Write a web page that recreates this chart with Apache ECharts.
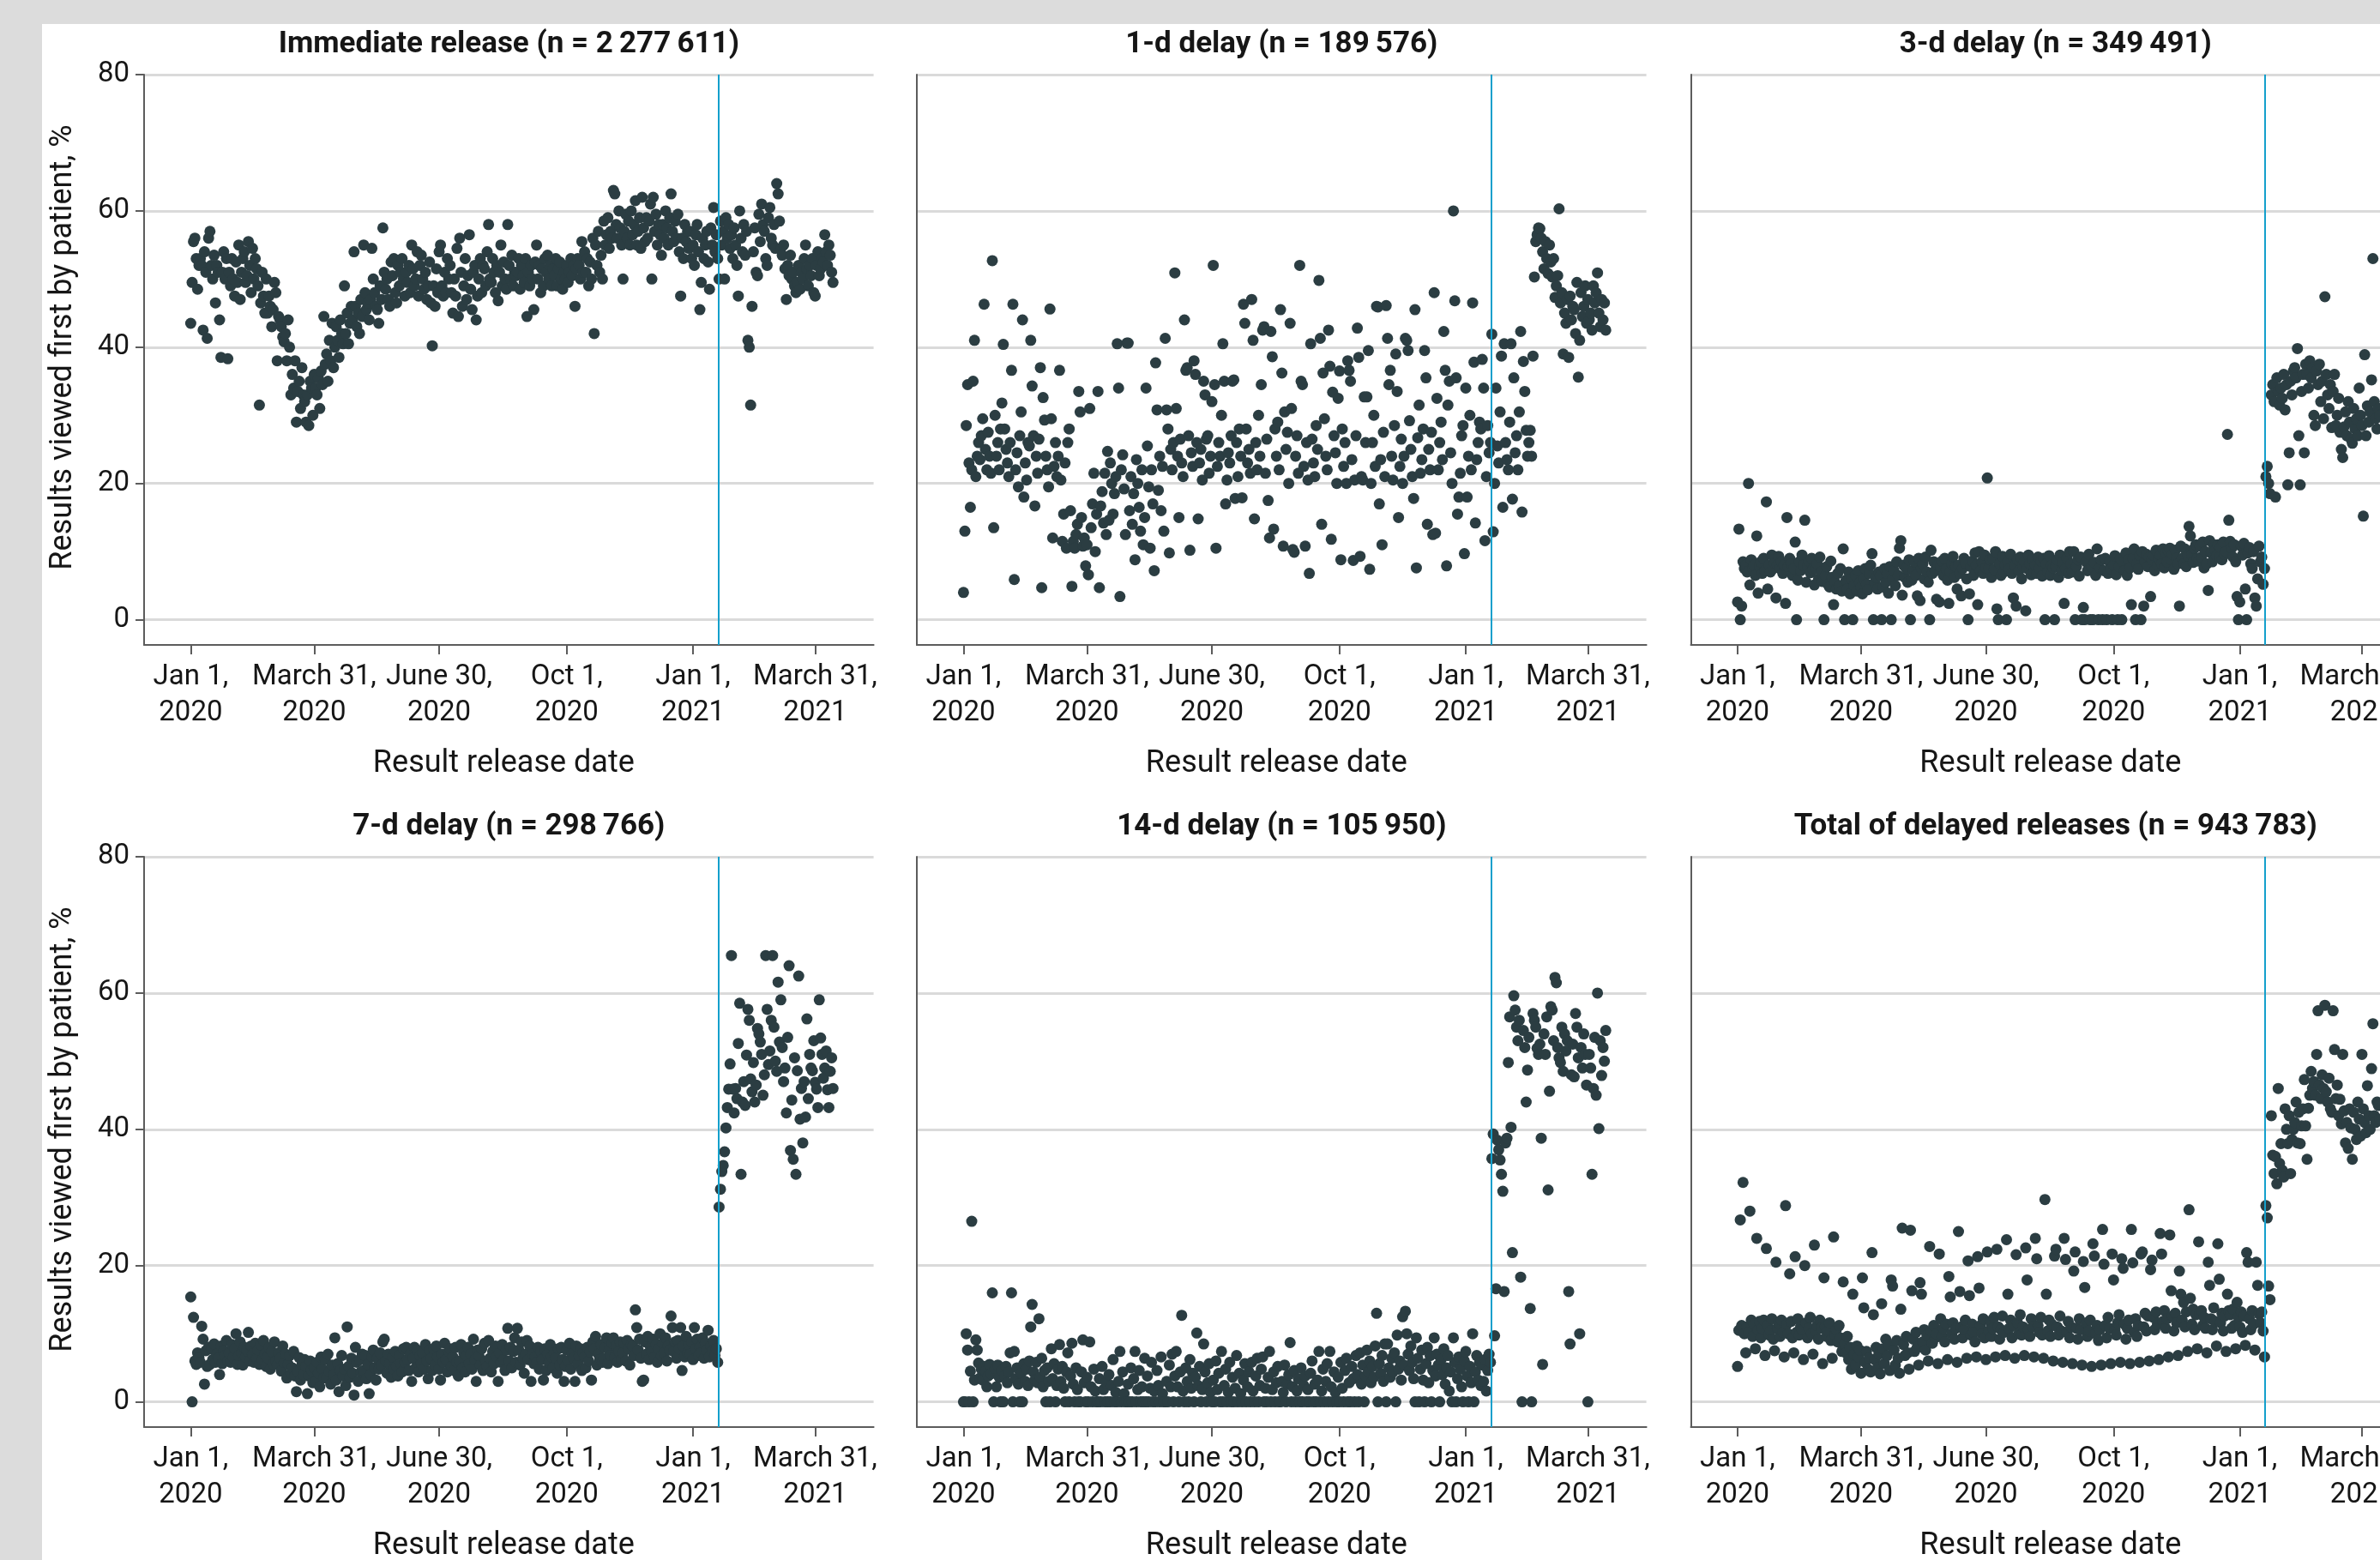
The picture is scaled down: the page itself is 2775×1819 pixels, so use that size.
<!DOCTYPE html>
<html>
<head>
<meta charset="utf-8">
<title>Results viewed first by patient</title>
<script src="https://cdn.jsdelivr.net/npm/echarts@6/dist/echarts.min.js"></script>
<style>
  html, body { margin: 0; padding: 0; background: #dcdcdc; overflow: hidden; }
  #paper { position: absolute; left: 49px; top: 28px; right: 0; bottom: 0; background: #fff; }
  #main { position: absolute; left: 0; top: 0; width: 2775px; height: 1819px; }
</style>
</head>
<body>
<div id="paper"></div>
<div id="main"></div>
<script>
// daily % of results viewed first by the patient, starting Jan 1, 2020
// one row per week
const immediate = [
  43.5, 49.5, 55.5, 56, 53, 48.5, 52,
  53, 52, 42.5, 54, 51, 41.3, 56,
  57, 52, 50, 53.5, 46.5, 52, 51,
  44, 38.5, 51, 54, 50, 53, 38.3,
  51, 49, 53, 50, 47.5, 52.5, 49.5,
  55, 47, 51, 53, 54, 49.5, 50.5,
  55.5, 52, 48, 54.5, 50, 53, 51.5,
  49, 31.5, 46.5, 51, 47.5, 45, 50,
  45, 47.5, 46, 43, 45.5, 49.5, 48,
  38, 44.5, 44, 43, 41.5, 40.8, 42,
  38, 44, 40, 33, 36, 34, 38,
  29, 33.5, 35, 31, 37, 33, 32,
  29, 33, 28.5, 35, 34, 30, 36,
  34, 33, 35.5, 31, 36.5, 34.5, 44.5,
  37.5, 39, 35, 41, 38, 43.5, 37,
  40, 43, 41, 38.5, 44, 42, 40.5,
  49, 42, 45, 40.5, 43.5, 46, 44,
  54, 46, 43, 45, 42, 47, 44.5,
  55, 48, 45.5, 46.5, 44, 47, 54.5,
  50, 48, 46, 45.5, 43.5, 49, 47,
  57.5, 51, 48.5, 50, 47, 46, 52.5,
  50.5, 53, 48, 46.5, 52, 49, 51,
  53, 50, 47.5, 51, 49.5, 52, 48,
  55, 51.5, 49, 50, 54, 47.5, 52,
  53.5, 50, 48.5, 51, 47, 49, 52.5,
  46.5, 40.2, 49, 46, 51.5, 48, 54,
  55, 49, 47.5, 51, 48, 53, 50,
  52, 48, 45, 50, 47.5, 54.5, 44.5,
  56, 51, 46, 49, 53, 47, 50.5,
  56.5, 48.5, 45.5, 51, 52, 44, 47.5,
  50, 53, 48, 52, 51.5, 49, 54,
  58, 50, 49.5, 53, 51, 48, 52,
  46.8, 51, 55, 49, 52.5, 50, 48.5,
  58, 52, 50, 53.5, 49, 51, 50.5,
  51, 53, 48.5, 52, 50.5, 49.5, 53,
  44.5, 51, 49, 52, 50, 45.5, 52.5,
  55, 50, 52, 48, 51.5, 49, 53,
  51, 53.5, 50, 52, 49, 51.5, 50.5,
  53, 49, 51.5, 52.5, 50, 48.5, 51,
  50, 52, 49.5, 51, 53, 50.5, 52,
  46, 51.5, 53, 52, 50, 55.5, 51,
  54, 51, 53, 49, 52.5, 50, 56,
  42, 55, 52, 57, 51, 53.5, 50,
  58.5, 55, 56.5, 59, 54.5, 57, 56,
  63, 62.5, 58, 56, 60, 57.5, 55,
  50, 57, 59.5, 56, 58.5, 55, 60,
  56.5, 58, 61.5, 55, 57, 59, 54.5,
  62, 57.5, 55.5, 59, 56, 58.5, 61,
  50, 62, 57, 59.5, 55, 58, 56.5,
  53.5, 58, 56, 60, 57.5, 55, 59,
  62.5, 57, 55.5, 58.5, 56, 59.5, 54,
  47.5, 56, 53, 58, 55.5, 57, 54.5,
  57, 53, 55, 52, 56.5, 58, 54,
  45.5, 49.5, 56, 53, 55, 57, 52.5,
  48.5, 57.5, 55, 60.5, 54, 56.5, 53,
  50, 58.5, 55, 57, 50, 59, 56,
  58, 54.5, 56.5, 53, 57.5, 55, 52,
  47.5, 60, 56, 54, 58, 53.5, 57,
  41, 40, 31.5, 46, 54, 57.5, 51,
  50.5, 59.5, 55.5, 61, 58, 57, 53,
  52, 59, 60.5, 56, 55, 58, 54.5,
  64, 62.5, 58.5, 54.5, 53.5, 55, 51.5,
  47, 52, 50.5, 53.5, 50, 51, 49,
  48, 49.5, 52, 48.5, 51, 50, 53,
  55, 51.5, 49, 52, 50.5, 53, 48,
  47.5, 52, 54, 50.5, 51.5, 53, 52.5,
  56.5, 54, 52, 55, 53.5, 51, 49.5
];

const delay1 = [
  4, 13, 28.5, 34.5, 23, 16.5, 22,
  35, 41, 21, 24, 26, 23.5, 27,
  29.5, 46.3, 25, 22, 27.5, 24, 21.5,
  52.7, 13.5, 30, 24, 26, 22, 28,
  31.8, 40.4, 28, 25, 23, 21, 26,
  36.6, 46.3, 5.9, 22, 24.5, 19.5, 27,
  30.5, 44, 18, 23, 20.5, 26, 25.5,
  41, 34.3, 27, 16.7, 24, 21.5, 26.5,
  37, 4.7, 32.6, 29.3, 24, 22, 19.5,
  45.6, 29.5, 12, 22.5, 26, 21, 24,
  36.6, 20.5, 11.5, 15.5, 23, 10.5, 26,
  28, 16, 4.9, 11.5, 10.5, 12.5, 14,
  33.5, 30.5, 15, 10.8, 12, 7.9, 11,
  6.6, 31, 13.5, 17, 21.5, 10, 15.5,
  33.5, 4.7, 16.7, 18.8, 14.2, 21.5, 12.5,
  24.7, 14.6, 23, 20, 15.5, 18.5, 21,
  40.5, 34, 3.4, 22, 24.2, 19.2, 12.5,
  40.6, 40.6, 16, 21, 14, 18.5, 8.8,
  23.5, 20, 16.5, 13, 22, 11, 15,
  34, 25.5, 19.5, 10.5, 22, 17, 7.2,
  37.7, 30.8, 19, 24, 16, 22.5, 13,
  41.3, 30.8, 28, 9.8, 25, 22, 26,
  50.9, 31, 24, 15, 26.5, 23, 21,
  44, 36.6, 37, 27, 10.2, 24.5, 22.5,
  38, 36, 26, 14.8, 23, 25, 20.5,
  35, 33, 26.5, 27, 21.5, 24, 32,
  52, 34.5, 10.5, 22.5, 26, 24, 30,
  40.5, 35, 17, 20.5, 24.5, 23, 27,
  35, 35.2, 17.8, 26, 21, 28, 24,
  17.9, 46.3, 43.5, 28, 23, 25, 21.5,
  47, 41, 14.8, 26, 22, 30, 24,
  34.5, 42.5, 43, 21.5, 26.5, 17.5, 12,
  42.3, 38.6, 13.3, 28, 24, 29, 22,
  45.5, 36.2, 10.8, 30.5, 25, 27.5, 20,
  43.5, 31, 10.3, 9.9, 24, 27, 21.5,
  52, 35, 34.5, 22.5, 10.8, 26, 20.5,
  6.8, 40.5, 26.5, 23, 21, 28.5, 25,
  49.8, 41.3, 14, 36.2, 29.5, 24, 22,
  42.5, 37.2, 11.8, 33.4, 27, 24.5, 20,
  32.5, 36.5, 8.8, 28, 22.5, 26, 20,
  38, 36.6, 35, 23.5, 8.7, 20.5, 27,
  42.8, 38.5, 9.3, 21, 20.5, 32.7, 26,
  32.7, 39.5, 7.4, 20, 26, 30, 22.5,
  46, 45.9, 17, 23.5, 11, 27.5, 21,
  46.1, 41.3, 34.5, 36.6, 24, 20.5, 28.5,
  39, 33.5, 15, 22.5, 26.5, 20, 24,
  41.3, 41, 39.5, 29.2, 25, 21, 17.8,
  45.5, 7.6, 26.7, 31.5, 21.5, 23.5, 28,
  39.5, 35.5, 14, 25, 22, 27.5, 12.5,
  48, 12.7, 32.5, 22, 26, 29, 23.5,
  42.3, 36.6, 7.9, 31.5, 35, 24.5, 20,
  60, 46.8, 35.5, 15.5, 18, 21.5, 27,
  28.5, 9.7, 34, 18, 24, 30, 22,
  46.5, 37.8, 14.2, 23.5, 26, 29, 28,
  38.2, 34, 11.6, 21, 28.5, 24.5, 26,
  41.9, 12.9, 20, 34, 25.5, 23, 30.5,
  38.7, 16.5, 40.5, 26, 23.5, 22, 29,
  40.5, 17.7, 35.5, 24.5, 27, 22, 30.5,
  42.3, 15.8, 37.9, 33.5, 27.8, 24, 26,
  27.8, 24, 38.7, 50.3, 55.5, 56.5, 57.5,
  57.4, 56, 54, 51.5, 55.5, 53, 50.8,
  55, 52.5, 50.3, 53, 47.3, 49, 50.5,
  60.3, 46.5, 48, 39, 45, 43.5, 47,
  38.5, 47.5, 44, 46, 45.5, 42, 49.5,
  35.6, 41, 48, 44.5, 46, 49, 43.5,
  47, 44, 45, 42.5, 49, 46.5, 48,
  50.9, 45, 43, 47, 44, 46.5, 42.5
];

const delay3 = [
  2.6, 13.3, 0, 2, 8.5, 7.5, 8,
  7, 20, 5.1, 8.8, 7.5, 8, 6.5,
  12.3, 3.9, 7.8, 8.5, 6.8, 9, 7.2,
  17.3, 4.5, 8, 7, 9.5, 7.5, 8.3,
  3.2, 8, 9.3, 7.5, 8.5, 6.8, 8,
  2.4, 15, 7.8, 9, 8.2, 6.5, 7.5,
  11.4, 0, 5.8, 8.5, 7.2, 9.5, 8,
  14.6, 5.5, 7.8, 8.6, 6.9, 9, 7.4,
  5.1, 7.5, 8.2, 6, 9.2, 7, 5.6,
  0, 6.5, 7.8, 5.2, 4.8, 8.6, 6.2,
  2.2, 5.5, 4.5, 6.8, 5, 7.5, 4.2,
  10.4, 0, 5.8, 4.5, 7, 3.8, 6,
  0, 5, 6.5, 4.2, 7.2, 5.5, 4.8,
  3.8, 6, 7.5, 5.2, 4.4, 6.8, 8,
  9.7, 0, 5.5, 6.2, 4.5, 7, 6.5,
  0, 4.8, 7.5, 5.5, 6.8, 3.9, 7.8,
  0, 6, 7.2, 5, 8.5, 6.5, 10.5,
  11.6, 3.6, 8, 6.2, 7.5, 5.5, 8.8,
  0, 5.8, 7.2, 8.5, 6.5, 3.5, 9,
  2.8, 7.5, 8.2, 6, 9.2, 7, 5.5,
  0, 10.2, 6.8, 8.5, 7.2, 3, 8,
  2.6, 7.8, 8.6, 6.5, 9, 7.4, 5.8,
  2.4, 7, 8.2, 9.3, 6.2, 7.8, 4.5,
  8, 6.8, 3.5, 7.5, 9, 8.3, 6,
  0, 3.8, 7.8, 8.6, 6.5, 9.8, 8,
  2.2, 10, 7.2, 8.5, 6.8, 9.5, 7.6,
  20.8, 7.5, 8.8, 6.2, 9, 7.4, 10,
  1.6, 0, 8.2, 6.5, 9.3, 7, 8,
  0, 8.5, 7.4, 9.6, 6.8, 3.2, 8,
  2, 8.8, 7.2, 9.2, 6, 7.8, 8.5,
  1.3, 7.5, 9.5, 8.2, 6.6, 8.9, 7,
  8, 6.8, 9.2, 7.5, 8.6, 6.4, 9,
  0, 8.2, 7, 9.4, 6.5, 8, 7.6,
  0, 7.8, 8.8, 6.2, 9.5, 7.2, 8.4,
  2.4, 7.5, 9, 6.8, 10, 8.2, 7,
  10, 0, 7.8, 8.8, 6.4, 9.2, 0,
  1.8, 0, 8.5, 7.2, 9.6, 0, 7.8,
  0, 8.4, 6.5, 10.4, 0, 7.6, 8.8,
  0, 7.2, 9, 0, 6.8, 8.5, 7.5,
  0, 8, 9.4, 6.6, 0, 7.8, 9,
  0, 8.5, 7.2, 9.8, 6.5, 8.8, 7.6,
  2.2, 9, 10.4, 0, 8.2, 7.4, 9.5,
  0, 10, 2, 8.5, 9.6, 7.8, 9.2,
  3.4, 8.8, 9.5, 7.2, 10.2, 8, 9,
  9.5, 8.2, 10.4, 7.6, 9.8, 8.5, 10,
  10.5, 8.8, 9.6, 7.4, 10.2, 9, 8.2,
  2, 10.8, 9, 8.2, 10.4, 7.8, 9.4,
  13.7, 12.3, 9.5, 8.4, 10.5, 11, 9,
  8.6, 10.8, 9.2, 11.4, 7.6, 10, 8.2,
  4.3, 11.6, 9.8, 8.5, 11, 10.2, 9.4,
  11, 9.2, 10.6, 8.8, 11.4, 9.6, 10,
  27.2, 14.6, 11.5, 10.5, 9.2, 11, 8.5,
  3.4, 0, 2.6, 10.8, 9.5, 11.2, 4.5,
  0, 9.8, 10.6, 8.2, 7.5, 10, 3.2,
  2, 6, 10.8, 8.5, 9.2, 5.2, 7.5,
  21, 22.5, 20, 18.5, 33, 34.5, 32,
  18, 35.5, 33.5, 31.5, 34, 32.5, 36,
  30.8, 34.5, 19.8, 24.5, 35, 33, 36.5,
  37, 35.5, 39.8, 27, 19.8, 33.5, 36,
  24.5, 37.5, 36, 34, 38, 35.5, 37,
  30, 28.5, 36.5, 34.5, 37.5, 32, 35,
  29.5, 47.4, 36, 33, 31, 34.5, 28.2,
  33.5, 36, 28.5, 30, 32.5, 27.5, 25,
  23.8, 28.3, 30.5, 27, 32, 29, 26.5,
  25.9, 31, 28, 29.5, 27, 34, 30,
  28.5, 15.2, 38.9, 27, 31.4, 29, 30.5,
  35.2, 53, 32, 29.5, 28, 31, 30
];

const delay7 = [
  15.4, 0, 12.4, 6, 5.5, 7.2, 6.5,
  5.8, 11.1, 9.2, 2.6, 7.5, 5.2, 8,
  5.5, 7.8, 6.2, 8.5, 5.8, 7, 6.4,
  4, 8.2, 5.6, 7.5, 6.8, 9, 6,
  7.2, 5.8, 8.4, 6.5, 7.8, 10, 5.5,
  6.8, 8.8, 7.2, 5.4, 8, 6.6, 7.5,
  10.2, 6, 8.2, 7, 5.8, 8.6, 6.4,
  7.6, 5.5, 8.4, 6.2, 9, 7, 5.2,
  6.5, 8, 4.8, 7.4, 5.6, 8.8, 6,
  5.5, 7.2, 6.4, 4.5, 8.2, 5.8, 7,
  3.5, 5.5, 6.8, 4.2, 5, 7.4, 3.8,
  1.5, 4.5, 6.5, 3.2, 5.5, 4, 6.2,
  5.2, 1.2, 3.8, 6, 4.6, 2.8, 5,
  3, 5.8, 4.2, 2.2, 6.6, 4.8, 3.5,
  6.2, 3.6, 7, 4.4, 2.6, 5.4, 4,
  9.4, 3.2, 5.6, 1.5, 4.6, 6.8, 3.8,
  4.8, 2.4, 11, 5.2, 3.6, 6.4, 4.2,
  1, 8, 5.8, 3, 6.2, 4.4, 7,
  4.6, 6.8, 3.4, 5.5, 1.2, 4, 6.6,
  7.6, 5, 3.2, 6.4, 4.8, 7.2, 5.4,
  8.8, 9.2, 6, 4.2, 7, 5.6, 3.6,
  6.6, 4.8, 7.4, 5.2, 3.8, 6.8, 5.6,
  4.4, 7.8, 5.8, 8, 6.2, 4.6, 7,
  3, 6.4, 8, 5, 7.6, 4.4, 6.8,
  5.6, 7.2, 4.8, 8.4, 6, 3.4, 7.6,
  6.4, 4.6, 7.8, 5.4, 8.2, 6.6, 4.8,
  3.2, 7, 5.8, 8.6, 6.2, 4.4, 7.4,
  7.8, 5.2, 6.6, 4.6, 8, 5.8, 3.8,
  6, 8.4, 5, 7.2, 4.4, 6.8, 8,
  5.6, 7, 4.8, 9.2, 6.2, 3, 7.6,
  6.8, 5.4, 7.8, 4.6, 8.6, 6, 5.2,
  9, 6.4, 4.4, 7.4, 5.6, 8.2, 6.6,
  3, 7.2, 5.8, 8.4, 6.2, 4.6, 7.6,
  10.8, 6, 8, 5, 7.4, 9.4, 5.8,
  10.8, 7.6, 5.4, 8.8, 6.4, 4.2, 7,
  9, 6.2, 8.2, 3, 7, 5.6, 6.6,
  5.8, 8, 4.8, 7.4, 6.2, 3.2, 7.8,
  4.6, 7, 5.8, 8.4, 6.6, 5, 7.2,
  6.4, 4.2, 7.8, 5.4, 8, 6.2, 3,
  5.2, 7.6, 6, 8.6, 4.8, 7, 6.4,
  3, 8.2, 5.6, 6.8, 7.8, 4.6, 7.2,
  6.6, 5, 8, 6, 7.4, 3.2, 8.8,
  7.8, 9.6, 5.4, 7, 6.2, 8.4, 5.8,
  6.4, 8, 9.4, 5.6, 7.6, 6.8, 8.6,
  9.4, 6.6, 8.2, 5.8, 7.4, 8.8, 6.2,
  7.2, 8.6, 6, 9, 7.8, 5.4, 8.4,
  8.2, 6.8, 13.5, 10.9, 7.6, 9.2, 6.4,
  3, 3.2, 8.8, 7, 9.6, 6.2, 8,
  7.4, 9.2, 6.6, 8.4, 5.8, 7.8, 10,
  6.8, 8.6, 7.2, 9.4, 6, 8.2, 7.6,
  12.6, 10.9, 7.4, 8.8, 6.4, 9, 7.8,
  10.9, 4.6, 8.2, 6.6, 9.6, 7.2, 8.4,
  7, 8.8, 6.2, 10.9, 7.8, 9.2, 6.8,
  8, 7.2, 9.4, 6.4, 8.6, 7.6, 10.5,
  6.6, 8.2, 7.4, 9, 6.8, 7.8, 5.8,
  28.6, 31.2, 33.8, 34.7, 36.7, 40.2, 43.2,
  45.9, 49.6, 65.5, 45.9, 42.4, 46, 44.5,
  52.6, 58.5, 33.4, 44, 47, 43.5, 50.9,
  57.6, 56, 47.4, 45.5, 49.8, 44, 46.5,
  54.8, 54, 52.8, 51, 45, 48, 65.5,
  57.6, 49.5, 51.5, 56, 65.5, 55, 50,
  48.5, 61.6, 52.8, 59, 52, 47, 49,
  42.4, 53.5, 64, 36.9, 44.3, 35.6, 50.5,
  33.4, 48.6, 62.5, 41.5, 46, 38, 47,
  41.8, 56.2, 44.5, 51, 49, 48.6, 53,
  46.9, 45.9, 43.2, 59, 53.4, 51, 47.5,
  49, 51.5, 45.8, 43.2, 48.5, 50.5, 46
];

const delay14 = [
  0, 0, 10, 7.6, 0, 4.5, 26.5,
  0, 3.2, 9.1, 7.6, 5.7, 3.5, 4.8,
  3.2, 5.2, 4.5, 2.2, 3.8, 5.5, 4.1,
  16, 0, 4.9, 2.2, 5.4, 3.6, 0,
  4.6, 0, 3.8, 5.2, 2.8, 4.4, 7.2,
  16, 0, 7.4, 3.4, 5, 2.6, 0,
  4.2, 0, 5.6, 3, 4.8, 2.4, 6,
  11, 14.3, 4.4, 3.2, 5.8, 2.8, 12.2,
  3.6, 6.4, 2.2, 4.6, 0, 5, 3,
  0, 7.8, 3.4, 5.6, 0, 2.4, 4.8,
  8.4, 3, 5.2, 2, 0, 4.4, 7.2,
  0, 3.8, 8.6, 2.6, 0, 5, 1.8,
  0, 0, 4.4, 9.1, 2.8, 0, 3.6,
  0, 8.8, 2.2, 0, 4.8, 1.6, 0,
  0, 3.4, 0, 5.2, 1.8, 0, 2.8,
  0, 4, 0, 2.4, 6.2, 0, 1.4,
  0, 3, 7.4, 0, 4.4, 1.2, 0,
  0, 2.6, 0, 5, 0, 3.4, 7.4,
  0, 1.8, 4.6, 0, 2.2, 0, 6.4,
  0, 3.8, 0, 2, 5.8, 0, 1.6,
  0, 4.6, 2.4, 0, 6.6, 1.2, 0,
  0, 3, 0, 5.4, 2.2, 7, 0,
  3.8, 7.4, 2.2, 0, 4.4, 12.7, 1.6,
  0, 5, 3, 0, 6.2, 2, 4.2,
  0, 3.6, 10.1, 2.4, 5.2, 0, 1.8,
  8.5, 4.4, 0, 2.8, 5.6, 1.4, 0,
  3.2, 0, 6, 1.8, 4.2, 0, 7.4,
  0, 2.4, 4.8, 0, 1.4, 5.8, 0,
  3.6, 0, 2, 6.8, 0, 4.2, 1.2,
  0, 3.2, 5.6, 0, 2.2, 4.4, 0,
  5.8, 1.6, 0, 3.8, 6.4, 0, 2.4,
  4.8, 6.6, 0, 2, 0, 3.6, 7.4,
  0, 1.8, 4.4, 0, 2.8, 5.2, 0,
  0, 3, 1.4, 5.4, 0, 2.6, 4,
  8.7, 0, 2.2, 4.6, 0, 1.6, 3.4,
  0, 5, 0, 2.4, 3.8, 0, 1.8,
  0, 4.2, 6, 0, 2.6, 0, 3.2,
  7.4, 0, 1.6, 4.8, 0, 3, 5.6,
  0, 7.4, 2.2, 0, 4.4, 1.4, 0,
  3.6, 0, 5.8, 2, 0, 4.6, 6.4,
  0, 2.8, 0, 5.2, 3.4, 0, 6.8,
  4, 0, 7.2, 2.6, 5.4, 0, 3.8,
  7.6, 4.4, 6, 2.8, 5.2, 3.6, 8.2,
  13, 0, 5.6, 4.2, 6.8, 3, 8.5,
  0, 8.5, 5, 3.6, 6.4, 4.4, 7.2,
  0, 9.8, 4.8, 6, 3.2, 12.5, 5.4,
  13.3, 10, 7, 4.6, 8.2, 5.8, 3.4,
  0, 9.4, 6.4, 0, 4.8, 7.6, 3.2,
  0, 5.6, 8, 2.8, 6.8, 0, 4.6,
  9.4, 3.8, 7, 5.4, 0, 6.2, 4,
  7.8, 2.6, 5, 6.8, 1.6, 4.4, 0,
  9.4, 5.8, 0, 3.4, 6.6, 4.8, 2.2,
  0, 6, 7.4, 3.8, 0, 5.2, 2.8,
  10, 0, 4.4, 6.8, 3.2, 5.8, 2.4,
  5.4, 3, 6.2, 1.6, 4.6, 7, 5.8,
  35.7, 39.3, 9.7, 16.6, 38.4, 37, 35.5,
  33.4, 30.9, 16.2, 38, 38.7, 49.8, 56.5,
  40.3, 21.9, 59.6, 57.5, 55, 53, 56,
  18.3, 0, 54.5, 52, 44, 48.7, 53.5,
  13.7, 0, 57, 56, 55, 51.9, 51,
  52.5, 38.7, 5.5, 54, 51, 56.5, 31.1,
  45.6, 58, 57.5, 53, 62.3, 61.5, 52,
  50.5, 49.8, 55, 48.5, 54, 51.5, 53,
  16.2, 8.5, 48, 52.5, 47.7, 57, 55,
  50.5, 10, 52, 49, 54, 51, 46.5,
  0, 51, 49, 33.4, 46, 53.5, 45,
  60, 40.1, 53, 47.9, 52, 50, 54.5
];

const delayTotal = [
  5.2, 10.5, 26.7, 11.2, 32.2, 10, 7.2,
  11, 10.2, 28, 12, 9.6, 11.4, 7.8,
  24, 10.6, 11.8, 9.4, 10.8, 12, 6.8,
  22.5, 11.2, 9.8, 10.4, 12.2, 9.2, 7.5,
  20.5, 10.8, 11.6, 9.6, 12, 10.2, 6.6,
  28.8, 11.4, 10, 18.8, 11.8, 9.4, 7.2,
  21.3, 10.2, 12.2, 9.8, 11, 10.6, 6.2,
  20, 11.6, 9.4, 10.8, 12.4, 10, 7,
  23, 10.4, 11.2, 9.2, 12, 10.8, 5.6,
  18.2, 11, 9.6, 10.4, 11.6, 9, 6.4,
  24.2, 9.8, 10.6, 8.8, 11.2, 9.4, 7.4,
  17.6, 8.4, 7.2, 9.6, 6.2, 8, 4.8,
  15.8, 7, 5.4, 8.2, 6.6, 7.6, 4.2,
  18.2, 13.8, 5.8, 7.4, 4.8, 6.4, 4.4,
  21.9, 12.8, 6.2, 8, 5, 7, 4.1,
  14.4, 7.8, 5.6, 9.2, 6.8, 8.4, 4.6,
  17.9, 17, 7.6, 5.4, 9, 6.4, 4.2,
  13.6, 25.5, 8.4, 6.8, 9.6, 7.2, 4.8,
  25.2, 16.3, 9.2, 7.4, 10.2, 8, 5.4,
  17.5, 15.8, 8.8, 10.6, 7.6, 9.8, 6,
  22.8, 10.4, 8.6, 11.2, 9.4, 10, 5.6,
  21.7, 12.2, 9.6, 10.8, 8.8, 11.4, 6.2,
  18.4, 15.4, 10, 11.6, 9.2, 10.8, 5.8,
  25, 16.2, 11, 9.4, 10.6, 12, 6.4,
  20.7, 15.6, 9.8, 11.4, 10.2, 8.8, 6.6,
  21.3, 16.7, 11.2, 10, 12.2, 9.4, 6.2,
  22, 10.4, 11.8, 9.6, 10.8, 12.4, 6.6,
  22.4, 11, 9.2, 10.6, 12.6, 10.2, 6.8,
  23.8, 15.8, 10.8, 12, 9.4, 11.2, 6.4,
  21.6, 11.6, 10, 12.8, 9.8, 11, 6.8,
  22.6, 17.9, 10.6, 9.6, 12.2, 11, 6.6,
  24, 21, 11.2, 10.2, 12.4, 9.8, 6.4,
  29.7, 15.8, 10.4, 12, 9.6, 11.4, 6,
  21.4, 22.4, 11, 9.8, 12.6, 10.4, 5.8,
  24, 20.9, 10.2, 11.8, 9.4, 11, 5.6,
  19.2, 22, 10.8, 9.2, 12.2, 10.6, 5.4,
  20.6, 16.8, 11.6, 9.6, 10.4, 12, 5.2,
  23.2, 21.4, 10, 11.2, 9, 10.6, 5.4,
  25.3, 20.2, 11.2, 9.4, 12.4, 10.8, 5.6,
  21.7, 17.9, 10.6, 9.8, 11.6, 12.8, 5.8,
  21, 19.6, 11.4, 9.2, 10.8, 12, 5.6,
  25.3, 20.4, 10.2, 12.2, 9.6, 11.2, 5.8,
  21.7, 22, 11, 13, 10.4, 12.6, 6,
  19.4, 20.8, 12.4, 10.6, 13.2, 11.4, 6.2,
  24.7, 21.7, 11.8, 13.4, 10.8, 12.2, 6.6,
  24.5, 16.3, 12.6, 10.4, 13, 11.6, 6.8,
  19.2, 15.8, 12, 14.6, 11, 13.2, 7.4,
  28.2, 15.2, 11.4, 13.6, 10.6, 12.8, 7.8,
  23.5, 12.9, 13.4, 11.2, 12.4, 10.8, 7.2,
  20.5, 17.1, 12.2, 10.6, 13.8, 11.8, 8.2,
  23.2, 18, 11.6, 13, 10.4, 12.6, 7.4,
  15.8, 13.4, 12.8, 10.8, 13.6, 11.2, 7.8,
  14.6, 12.4, 11, 13.2, 10.2, 12.6, 8.3,
  21.9, 20.5, 12.2, 10.6, 13.4, 11.4, 7.6,
  20.5, 17.1, 12.9, 11.6, 13.2, 10.4, 6.6,
  28.8, 27, 17, 15, 42, 36.2, 33.5,
  36, 32, 46, 35, 37.9, 34, 33,
  43, 40, 37.9, 42, 33.5, 38.5, 40,
  41, 44, 38, 42.5, 37.9, 40.5, 43,
  47.3, 40.5, 35.6, 43.1, 45, 48.5, 46,
  47, 45, 51, 57.4, 46.5, 44.5, 48,
  46, 58.2, 45.5, 44, 47.5, 43, 42.5,
  57.4, 51.7, 44.5, 46.5, 42, 44.4, 40.8,
  51, 42.7, 38, 41, 37.2, 43, 40.2,
  35.6, 42.5, 40, 38.5, 44, 41.5, 39,
  51, 43, 41, 39.5, 46.4, 42, 40,
  48.9, 55.5, 42, 41, 44, 43.5, 41.5
];

const panelTitles = [
  "Immediate release (n = 2\u2009277\u2009611)",
  "1-d delay (n = 189\u2009576)",
  "3-d delay (n = 349\u2009491)",
  "7-d delay (n = 298\u2009766)",
  "14-d delay (n = 105\u2009950)",
  "Total of delayed releases (n = 943\u2009783)"
];
const tickDates = [[2020, 0, 1], [2020, 2, 31], [2020, 5, 30], [2020, 9, 1], [2021, 0, 1], [2021, 2, 31]];
const tickLabels = ["Jan 1,\n2020", "March 31,\n2020", "June 30,\n2020", "Oct 1,\n2020", "Jan 1,\n2021", "March 31,\n2021"];
const yTicks = [0, 20, 40, 60, 80];

const FONT = "Roboto, 'Liberation Sans', sans-serif";
const INK = "#161616";
const AXIS = "#5c5c5c";
const DAY = 86400000;

// x is counted in days since Jan 1, 2020
function dayOf(y, m, d) {
  return Math.round((Date.UTC(y, m, d) - Date.UTC(2020, 0, 1)) / DAY);
}
const tickDays = tickDates.map(d => dayOf(d[0], d[1], d[2]));
const changeDay = dayOf(2021, 0, 19) + 0.5;
const xMin = -34;
const xMax = 497.6;

const panels = [immediate, delay1, delay3, delay7, delay14, delayTotal];
const colLeft = [168, 1069, 1971.5];
const rowTop = [87, 999];
const plotW = 850.6;
const plotH = 665;

let chart = echarts.init(document.getElementById("main"));

let grids = [], xAxes = [], yAxes = [], series = [], texts = [];
panels.forEach(function (values, i) {
  let r = Math.floor(i / 3), c = i % 3;
  // the third column runs past the right edge of the page, as in the source figure
  grids.push({ left: colLeft[c], top: rowTop[r], width: plotW, height: plotH, outerBoundsMode: "none", containLabel: false });
  xAxes.push({
    gridIndex: i,
    type: "value",
    min: xMin,
    max: xMax,
    axisLine: { onZero: false, lineStyle: { color: AXIS, width: 2 } },
    axisTick: { length: 11, customValues: tickDays, lineStyle: { color: AXIS, width: 2 } },
    axisLabel: {
      customValues: tickDays,
      formatter: function (v) {
        let k = tickDays.indexOf(Math.round(v));
        return k < 0 ? "" : tickLabels[k];
      },
      fontFamily: FONT,
      fontSize: 33,
      lineHeight: 42,
      color: INK,
      margin: 17
    },
    splitLine: { show: false },
    name: "Result release date",
    nameLocation: "middle",
    nameGap: 119,
    nameTextStyle: { fontFamily: FONT, fontSize: 36, color: INK, lineHeight: 40, padding: [0, 12, 0, 0] }
  });
  yAxes.push({
    gridIndex: i,
    type: "value",
    min: -3.7,
    max: 80,
    axisLine: { show: true, onZero: false, lineStyle: { color: AXIS, width: 2 } },
    axisTick: { show: c === 0, length: 10, customValues: yTicks, lineStyle: { color: AXIS, width: 2 } },
    axisLabel: { show: c === 0, customValues: yTicks, fontFamily: FONT, fontSize: 33, color: INK, margin: 17 },
    splitLine: { show: true, lineStyle: { color: "#dadada", width: 3 } }
  });
  series.push({
    type: "scatter",
    xAxisIndex: i,
    yAxisIndex: i,
    symbol: "circle",
    symbolSize: 13,
    itemStyle: { color: "#2b3d42", opacity: 1 },
    silent: true,
    data: values.map((v, d) => [d, v]),
    markLine: {
      silent: true,
      symbol: ["none", "none"],
      label: { show: false },
      lineStyle: { color: "#14a0cc", width: 2, type: "solid" },
      data: [{ xAxis: changeDay }]
    }
  });
  texts.push({
    type: "text",
    x: colLeft[c] + plotW / 2,
    y: 52 + 912 * r,
    style: { text: panelTitles[i], fontFamily: FONT, fontSize: 35, fontWeight: "bold", fill: INK, align: "center", verticalAlign: "middle" }
  });
  if (c === 0) {
    texts.push({
      type: "text",
      x: 74,
      y: 405 + 912 * r,
      rotation: Math.PI / 2,
      style: { text: "Results viewed first by patient, %", fontFamily: FONT, fontSize: 36, fill: INK, align: "center", verticalAlign: "middle" }
    });
  }
});

let option = {
  animation: false,
  grid: grids,
  xAxis: xAxes,
  yAxis: yAxes,
  series: series,
  graphic: { elements: texts }
};
chart.setOption(option);
</script>
</body>
</html>
